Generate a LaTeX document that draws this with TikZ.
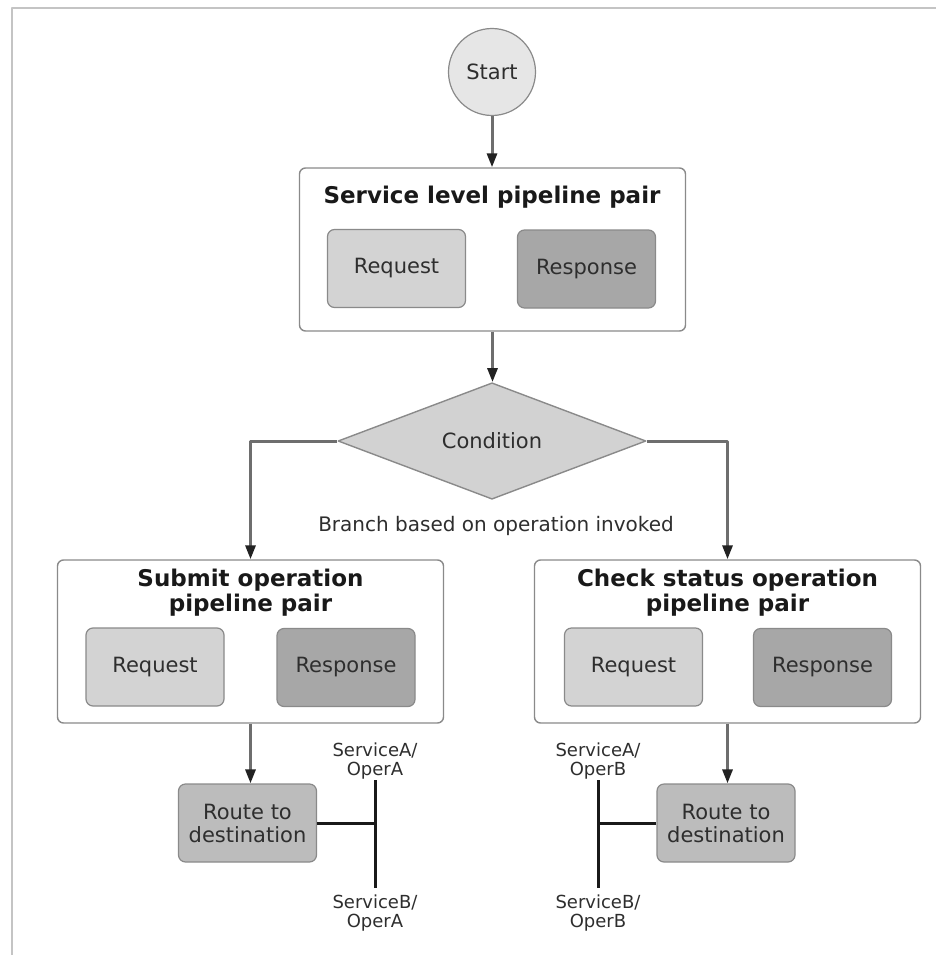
\documentclass[tikz,border=0pt]{standalone}
\usepackage{fontspec}
\setmainfont{DejaVu Sans}
\usetikzlibrary{arrows,arrows.meta,shapes.geometric}
\definecolor{edgegray}{HTML}{8A8A8A}
\definecolor{flowgray}{HTML}{6E6E6E}
\definecolor{tipblack}{HTML}{222222}
\definecolor{startfill}{HTML}{E6E6E6}
\definecolor{reqfill}{HTML}{D3D3D3}
\definecolor{resfill}{HTML}{A7A7A7}
\definecolor{routefill}{HTML}{BCBCBC}
\definecolor{condfill}{HTML}{D2D2D2}
\definecolor{framegray}{HTML}{C4C4C4}
\definecolor{inkgray}{HTML}{2E2E2E}
\newcommand{\bodysize}{\fontsize{21}{24}\selectfont}
\newcommand{\titlesize}{\fontsize{23}{25}\selectfont\bfseries}
\newcommand{\labelsize}{\fontsize{18}{19}\selectfont}

\begin{document}
\begin{tikzpicture}[line cap=round,line join=round,x=1pt,y=-1pt,
	pairbox/.style={draw=edgegray,line width=1.4pt,rounded corners=6pt,fill=white,minimum width=386pt,minimum height=163pt},
	halfbox/.style={draw=edgegray,line width=1.2pt,rounded corners=7pt,minimum width=138pt,minimum height=78pt,text=inkgray,font=\bodysize},
	reqbox/.style={halfbox,fill=reqfill},
	resbox/.style={halfbox,fill=resfill},
	routebox/.style={halfbox,fill=routefill,align=center,font=\fontsize{21}{23}\selectfont},
	titletext/.style={align=center,text=black!90,font=\titlesize},
	plaintext/.style={text=inkgray,font=\fontsize{20}{24}\selectfont},
	servlabel/.style={align=center,text=inkgray,font=\labelsize,inner sep=1pt},
	flow/.style={draw=flowgray,line width=3pt,line cap=butt,-{Triangle[length=14pt,width=10pt,color=tipblack]}},
	wire/.style={draw=black!90,line width=3pt,line cap=butt}]
	\useasboundingbox (0,0) rectangle (936,955);
	\draw [framegray,line width=1.5pt] (12,955) -- (12,8) -- (936,8);
	\node [circle,draw=edgegray,line width=1.2pt,fill=startfill,minimum size=87pt,text=inkgray,font=\bodysize] (start) at (492,72) {Start};
	\node [pairbox] (svc) at (492.5,249.5) {};
	\node [titletext] (svctitle) at (492,197) {Service level pipeline pair};
	\node [reqbox] (svcreq) at (396.5,268.5) {Request};
	\node [resbox] (svcres) at (586.5,269) {Response};
	\node [diamond,draw=edgegray,line width=1.4pt,fill=condfill,minimum width=308pt,minimum height=114pt,inner sep=0pt,text=inkgray,font=\bodysize] (cond) at (492,441) {Condition};
	\node [plaintext] (branch) at (496,526) {Branch based on operation invoked};
	\node [pairbox] (sub) at (250.5,641.5) {};
	\node [titletext] (subtitle) at (250.5,593) {Submit operation\\pipeline pair};
	\node [reqbox] (subreq) at (155,667) {Request};
	\node [resbox] (subres) at (346,667.5) {Response};
	\node [pairbox] (chk) at (727.5,641.5) {};
	\node [titletext] (chktitle) at (727.5,593) {Check status operation\\pipeline pair};
	\node [reqbox] (chkreq) at (633.5,667) {Request};
	\node [resbox] (chkres) at (822.5,667.5) {Response};
	\node [routebox] (routesub) at (247.5,823) {Route to\\destination};
	\node [routebox] (routechk) at (726,823) {Route to\\destination};
	\node [servlabel] (saopa) at (375,761) {ServiceA/\\OperA};
	\node [servlabel] (sbopa) at (375,913) {ServiceB/\\OperA};
	\node [servlabel] (saopb) at (598,761) {ServiceA/\\OperB};
	\node [servlabel] (sbopb) at (598,913) {ServiceB/\\OperB};
	\draw [flow] (start.south) -- (start.south |- svc.north);
	\draw [flow] (svc.south) -- (svc.south |- cond.north);
	\draw [flow] (cond.west) -| (sub.north);
	\draw [flow] (cond.east) -| (chk.north);
	\draw [flow] (sub.south) -- (sub.south |- routesub.north);
	\draw [flow] (chk.south) -- (chk.south |- routechk.north);
	\draw [wire,shorten >=6pt] (saopa.south) -- (sbopa.north);
	\draw [wire] (routesub.east) -- (routesub.east -| saopa.south);
	\draw [wire,shorten >=6pt] (saopb.south) -- (sbopb.north);
	\draw [wire] (routechk.west) -- (routechk.west -| saopb.south);
\end{tikzpicture}
\end{document}
